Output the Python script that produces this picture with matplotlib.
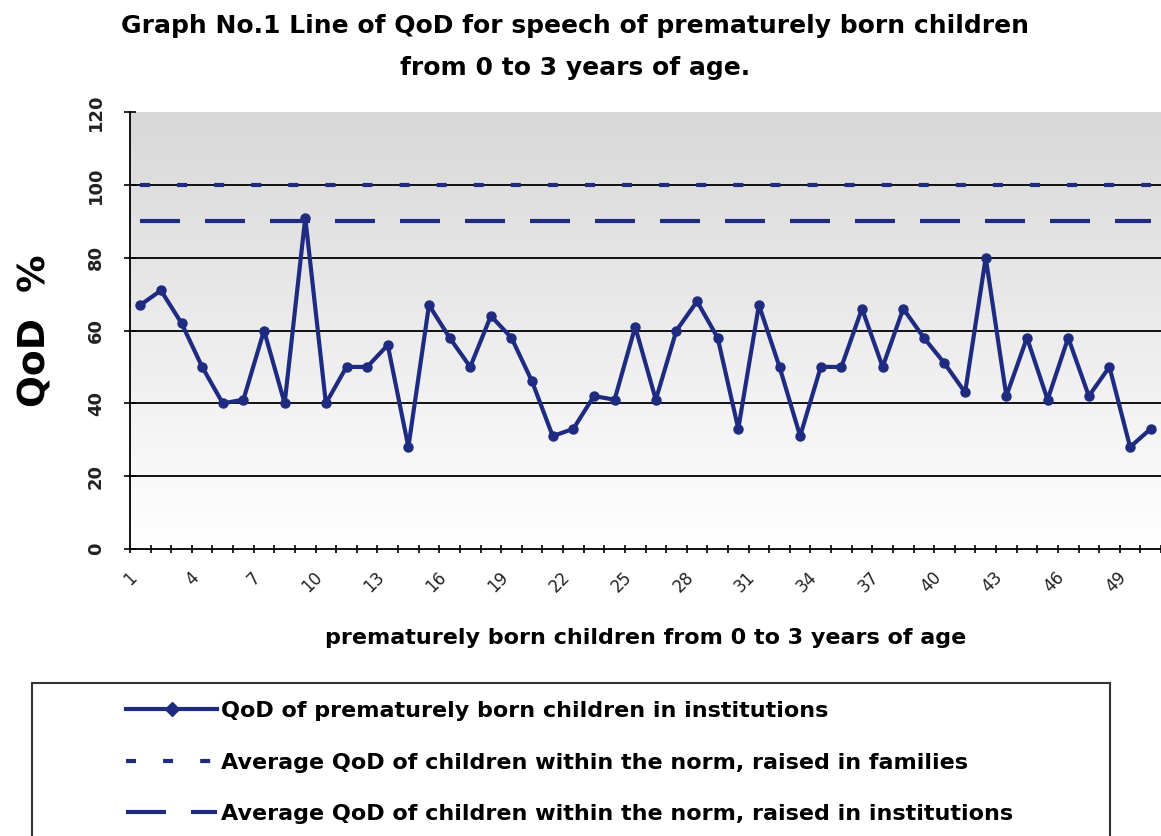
import numpy as np
import matplotlib
matplotlib.use("Agg")
import matplotlib.pyplot as plt
from matplotlib.lines import Line2D
from matplotlib.patches import Rectangle

# dane
children = list(range(1, 51))
qod_institutions = [67, 71, 62, 50, 40, 41, 60, 40, 91, 40,
                    50, 50, 56, 28, 67, 58, 50, 64, 58, 46,
                    31, 33, 42, 41, 61, 41, 60, 68, 58, 33,
                    67, 50, 31, 50, 50, 66, 50, 66, 58, 51,
                    43, 80, 42, 58, 41, 58, 42, 50, 28, 33]
avg_families = [100] * 50
avg_institutions = [90] * 50

title = ("Graph No.1 Line of QoD for speech of prematurely born children\n"
         "from 0 to 3 years of age.")
labels = ["QoD of prematurely born children in institutions",
          "Average QoD of children within the norm, raised in families",
          "Average QoD of children within the norm, raised in institutions"]

navy = "#1f2b80"

fig = plt.figure(figsize=(11.61, 8.36), dpi=100)
ax = fig.add_axes([130 / 1161, 287 / 836, 1031 / 1161, 437 / 836])

# gradient tła
grad = np.linspace(0, 1, 256).reshape(-1, 1)
ax.imshow(grad, extent=[0.5, 50.5, 0, 120], aspect="auto",
          cmap=matplotlib.colors.LinearSegmentedColormap.from_list("g", ["#ffffff", "#d8d8d8"]),
          origin="lower", zorder=0)

for v in [20, 40, 60, 80, 100]:
    ax.axhline(v, color="black", lw=1.3, zorder=1)

ax.plot(children, avg_families, color=navy, lw=3, dashes=(2.4, 6.5), zorder=2)
ax.plot(children, avg_institutions, color=navy, lw=3, dashes=(9.6, 6), zorder=2)
ax.plot(children, qod_institutions, color=navy, lw=3, marker="o", ms=6.5, zorder=3)

ax.set_xlim(0.5, 50.5)
ax.set_ylim(0, 120)
ax.set_yticks(range(0, 121, 20))
ax.set_yticklabels([str(v) for v in range(0, 121, 20)], rotation=90, va="center",
                   fontsize=13, fontweight="bold", color="#222222")
ax.set_xticks(children[::3])
ax.set_xticklabels([str(c) for c in children[::3]], rotation=45, ha="right",
                   fontsize=12, color="#222222")
ax.set_xticks(np.arange(0.5, 51, 1), minor=True)
ax.tick_params(axis="x", which="major", length=0, pad=14)
ax.tick_params(axis="x", which="minor", length=6, direction="inout", width=1.2)
ax.tick_params(axis="y", length=8, direction="inout", width=1.2, pad=14)

for s in ["top", "right"]:
    ax.spines[s].set_visible(False)
ax.spines["left"].set_linewidth(1.3)
ax.spines["bottom"].set_linewidth(1.3)

ax.set_ylabel("QoD  %", fontsize=27, fontweight="bold", labelpad=24)
ax.set_xlabel("prematurely born children from 0 to 3 years of age",
              fontsize=16, fontweight="bold", labelpad=23)

fig.text(575 / 1161, 1 - 47 / 836, title, ha="center", va="center",
         fontsize=18, fontweight="bold", linespacing=1.9)

# legenda
fig.patches.append(Rectangle((32 / 1161, -0.01), (1110 - 32) / 1161, 1 - 683 / 836 + 0.01,
                             transform=fig.transFigure, fill=False, ec="#333333", lw=1.5))
handles = [Line2D([], [], color=navy, lw=3, marker="D", ms=7, markevery=[1]),
           Line2D([], [], color=navy, lw=3, dashes=(2.4, 6.5)),
           Line2D([], [], color=navy, lw=3, dashes=(9.6, 6))]
for h in handles:
    h.set_xdata([0, 0.5, 1])
    h.set_ydata([0, 0, 0])
fig.legend(handles, labels, loc="upper left", bbox_to_anchor=(115 / 1161, 1 - 690 / 836),
           frameon=False, borderpad=0, handlelength=4.1, handletextpad=0.15, labelspacing=1.42,
           prop={"weight": "bold", "size": 16})

fig.savefig("out.png", dpi=100)
